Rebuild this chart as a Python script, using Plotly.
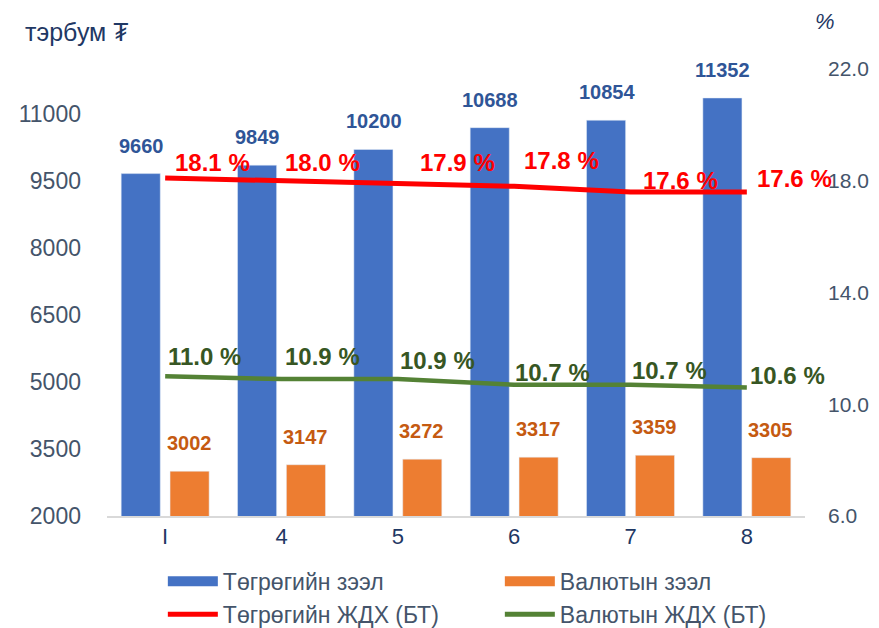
import plotly.graph_objects as go

categories = ["I", "4", "5", "6", "7", "8"]
mnt_loans = [9660, 9849, 10200, 10688, 10854, 11352]
fx_loans = [3002, 3147, 3272, 3317, 3359, 3305]
mnt_rate = [18.1, 18.0, 17.9, 17.8, 17.6, 17.6]
fx_rate = [11.0, 10.9, 10.9, 10.7, 10.7, 10.6]
left_ticks = [2000, 3500, 5000, 6500, 8000, 9500, 11000]
right_ticks = [6.0, 10.0, 14.0, 18.0, 22.0]

BLUE = "#4472C4"
ORANGE = "#ED7D31"
RED = "#FF0000"
GREEN = "#548235"
FONT = "Liberation Sans"

# page body has an 8px margin; figure offset accordingly
W, H = 871, 620
L, T, R, B = 99, 61, 74, 112
PW, PH = W - L - R, H - T - B

# label offsets (px) for the line value labels
red_dx = [10, 3, 22, 10, 12, 10]
red_dy = [15, 18, 21, 26, 11, 13]
green_dx = [3, 3, 2, 1, 1, 3]
green_dy = [20, 23, 19, 12, 14, 12]

fig = go.Figure()
fig.add_trace(go.Bar(x=categories, y=mnt_loans, name="Төгрөгийн зээл",
                     marker_color=BLUE, showlegend=False))
fig.add_trace(go.Bar(x=categories, y=fx_loans, name="Валютын зээл",
                     marker_color=ORANGE, showlegend=False))
fig.add_trace(go.Scatter(x=categories, y=mnt_rate, yaxis="y2", mode="lines",
                         line=dict(color=RED, width=5), name="Төгрөгийн ЖДХ (БТ)",
                         showlegend=False))
fig.add_trace(go.Scatter(x=categories, y=fx_rate, yaxis="y2", mode="lines",
                         line=dict(color=GREEN, width=4.5), name="Валютын ЖДХ (БТ)",
                         showlegend=False))

# legend entries
for name, color, w in [("Төгрөгийн зээл", BLUE, 15), ("Валютын зээл", ORANGE, 15),
                       ("Төгрөгийн ЖДХ (БТ)", RED, 5), ("Валютын ЖДХ (БТ)", GREEN, 5)]:
    fig.add_trace(go.Scatter(x=[None], y=[None], mode="lines", name=name,
                             line=dict(color=color, width=w)))

ann = []
for i, v in enumerate(mnt_loans):
    ann.append(dict(x=i, y=v, xref="x", yref="y", text=str(v), showarrow=False,
                    yanchor="bottom", yshift=15, xshift=-24,
                    font=dict(family=FONT, size=20, color="#2F5597", weight="bold")))
for i, v in enumerate(fx_loans):
    ann.append(dict(x=i, y=v, xref="x", yref="y", text=str(v), showarrow=False,
                    yanchor="bottom", yshift=15, xshift=24,
                    font=dict(family=FONT, size=20, color="#C55A11", weight="bold")))
for i, v in enumerate(mnt_rate):
    ann.append(dict(x=i, y=v, xref="x", yref="y2", text=f"{v:.1f} %", showarrow=False,
                    xanchor="left", yanchor="middle", xshift=red_dx[i] - 2, yshift=red_dy[i],
                    font=dict(family=FONT, size=24, color=RED, weight="bold")))
for i, v in enumerate(fx_rate):
    ann.append(dict(x=i, y=v, xref="x", yref="y2", text=f"{v:.1f} %", showarrow=False,
                    xanchor="left", yanchor="middle", xshift=green_dx[i] - 2, yshift=green_dy[i],
                    font=dict(family=FONT, size=24, color="#375623", weight="bold")))
ann.append(dict(x=(15 - L) / PW, y=(T + PH - 24) / PH, xref="paper", yref="paper",
                xanchor="left", yanchor="middle", text="тэрбум ₮", showarrow=False,
                font=dict(family=FONT, size=25, color="#1F3864")))
ann.append(dict(x=(817 - L) / PW, y=(T + PH - 14) / PH, xref="paper", yref="paper",
                xanchor="center", yanchor="middle", text="<i>%</i>", showarrow=False,
                font=dict(family=FONT, size=22, color="#1F3864")))

fig.update_layout(
    width=W, height=H,
    margin=dict(l=L, r=R, t=T, b=B, autoexpand=False),
    paper_bgcolor="white", plot_bgcolor="white",
    barmode="group", bargap=0.16, bargroupgap=0.2,
    font=dict(family=FONT, color="#44546A"),
    xaxis=dict(type="category", range=[-0.5, len(categories) - 0.5], showgrid=False,
               showline=True, linecolor="#D9D9D9", linewidth=1.5, ticks="",
               tickfont=dict(size=22, color="#1F3864")),
    yaxis=dict(range=[2000, 12000], tickvals=left_ticks, tickformat="d", showgrid=False,
               showline=False, zeroline=False, tickfont=dict(size=23, color="#44546A"),
               ticklabelstandoff=25),
    yaxis2=dict(range=[6, 22], tickvals=right_ticks, tickformat=".1f", overlaying="y",
                side="right", showgrid=False, showline=False, zeroline=False,
                tickfont=dict(size=21, color="#44546A"), ticklabelstandoff=22),
    legend=dict(orientation="h", x=0.080, y=-0.098, xanchor="left", yanchor="top",
                entrywidth=272, entrywidthmode="pixels",
                font=dict(size=23, color="#44546A"), itemwidth=50),
    annotations=ann,
)

fig.write_html("out.html")
